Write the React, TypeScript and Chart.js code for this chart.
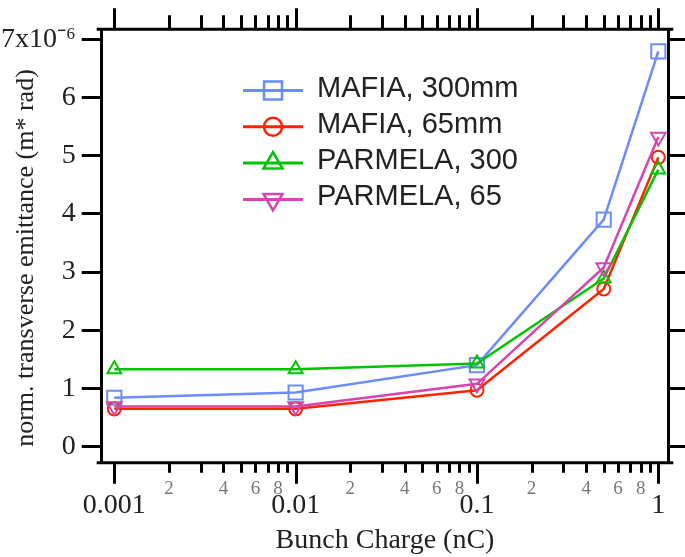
import React, { useEffect, useRef } from 'react';
import { Chart, registerables } from 'chart.js';

Chart.register(...registerables);

// ---- data ----
const charges = [0.001, 0.01, 0.1, 0.5, 1];
const mafia300 = [0.84, 0.93, 1.4, 3.9, 6.79];
const mafia65 = [0.65, 0.65, 0.97, 2.71, 4.97];
const parmela300 = [1.33, 1.33, 1.43, 2.89, 4.76];
const parmela65 = [0.69, 0.69, 1.08, 3.08, 5.32];

const seriesNames = ['MAFIA, 300mm', 'MAFIA, 65mm', 'PARMELA, 300', 'PARMELA, 65'];
const seriesValues = [mafia300, mafia65, parmela300, parmela65];
const seriesColors = ['#6a8cff', '#ff2200', '#00c400', '#d845b0'];
const seriesMarkers = ['rect', 'circle', 'triangle', 'triangleDown'];

const yTicks = [0, 1, 2, 3, 4, 5, 6, 7];
const yTopTickLabel = '7x10\u207B\u2076';
const decades = [0.001, 0.01, 0.1, 1];
const decadeLabels = ['0.001', '0.01', '0.1', '1'];
const minorSteps = [2, 3, 4, 5, 6, 7, 8, 9];
const minorLabelSteps = [2, 4, 6, 8];

const xTitle = 'Bunch Charge (nC)';
const yTitle = 'norm. transverse emittance (m* rad)';

const SERIF = "'Liberation Serif', 'Times New Roman', serif";
const SANS = "'Liberation Sans', Arial, sans-serif";

function drawMarker(ctx: CanvasRenderingContext2D, kind: string, x: number, y: number, r: number) {
  ctx.beginPath();
  if (kind === 'rect') {
    const s = r * Math.SQRT1_2;
    ctx.rect(x - s, y - s, 2 * s, 2 * s);
  } else if (kind === 'circle') {
    ctx.arc(x, y, r, 0, Math.PI * 2);
  } else {
    const d = kind === 'triangle' ? 1 : -1;
    ctx.moveTo(x, y - d * r);
    ctx.lineTo(x + r * 0.866, y + (d * r) / 2);
    ctx.lineTo(x - r * 0.866, y + (d * r) / 2);
    ctx.closePath();
  }
  ctx.stroke();
}

const decorPlugin = {
  id: 'decor',
  afterDraw(chart: any) {
    const ctx: CanvasRenderingContext2D = chart.ctx;
    const a = chart.chartArea;
    const x = chart.scales.x;
    ctx.save();
    // horizontal frame lines (slightly extended past the corners)
    ctx.strokeStyle = '#000';
    ctx.lineWidth = 3;
    ctx.beginPath();
    ctx.moveTo(a.left - 5, a.top);
    ctx.lineTo(a.right + 5, a.top);
    ctx.moveTo(a.left - 5, a.bottom);
    ctx.lineTo(a.right + 5, a.bottom);
    ctx.stroke();

    // log ticks top & bottom
    const tickVals: { v: number; major: boolean; minorLabel: string }[] = [];
    decades.forEach((d, i) => {
      tickVals.push({ v: d, major: true, minorLabel: '' });
      if (i < decades.length - 1) {
        minorSteps.forEach((m) =>
          tickVals.push({ v: m * d, major: false, minorLabel: minorLabelSteps.includes(m) ? String(m) : '' })
        );
      }
    });
    ctx.beginPath();
    tickVals.forEach((t) => {
      const px = Math.round(x.getPixelForValue(t.v)) + 0.5;
      ctx.moveTo(px, a.bottom);
      ctx.lineTo(px, a.bottom + (t.major ? 21 : 10));
      ctx.moveTo(px, a.top);
      ctx.lineTo(px, a.top - (t.major ? 21 : 14));
    });
    ctx.stroke();

    // tick labels
    ctx.textAlign = 'center';
    ctx.textBaseline = 'middle';
    ctx.fillStyle = '#777';
    ctx.font = `19px ${SERIF}`;
    tickVals.forEach((t) => {
      if (t.minorLabel) ctx.fillText(t.minorLabel, x.getPixelForValue(t.v), a.bottom + 26);
    });
    ctx.fillStyle = '#222';
    ctx.font = `28px ${SERIF}`;
    decades.forEach((d, i) => ctx.fillText(decadeLabels[i], x.getPixelForValue(d), a.bottom + 43));

    // axis titles
    ctx.font = `28px ${SERIF}`;
    ctx.fillText(xTitle, (a.left + a.right) / 2, a.bottom + 78);
    ctx.save();
    ctx.translate(26, (a.top + a.bottom) / 2 + 12);
    ctx.rotate(-Math.PI / 2);
    ctx.font = `26px ${SERIF}`;
    ctx.fillText(yTitle, 0, 0);
    ctx.restore();

    // legend
    const lx0 = 243;
    const lx1 = 303;
    const mx = 273;
    const tx = 317;
    const legendR = [12.7, 9, 11, 11];
    chart.data.datasets.forEach((ds: any, i: number) => {
      const y = 90.5 + i * 36.3;
      ctx.strokeStyle = ds.borderColor;
      ctx.lineWidth = 3;
      ctx.beginPath();
      ctx.moveTo(lx0, y);
      ctx.lineTo(lx1, y);
      ctx.stroke();
      ctx.lineWidth = 2.5;
      drawMarker(ctx, seriesMarkers[i], mx, y, legendR[i]);
      ctx.fillStyle = '#222';
      ctx.font = `29px ${SANS}`;
      ctx.textAlign = 'left';
      ctx.fillText(ds.label, tx, y - 2);
    });
    ctx.restore();
  },
};

export default function App() {
  const ref = useRef<HTMLCanvasElement | null>(null);
  useEffect(() => {
    if (!ref.current) return;
    const orders = [4, 3, 2, 1];
    const radii = [10, 6.5, 8, 8.5];
    const datasets = seriesNames.map((name, i) => ({
      label: name,
      data: charges.map((c, j) => ({ x: c, y: seriesValues[i][j] })),
      borderColor: seriesColors[i],
      backgroundColor: 'rgba(0,0,0,0)',
      borderWidth: 2.5,
      pointStyle: seriesMarkers[i] === 'triangleDown' ? 'triangle' : seriesMarkers[i],
      pointRotation: seriesMarkers[i] === 'triangleDown' ? 180 : 0,
      pointRadius: radii[i],
      pointBorderWidth: 2,
      pointBorderColor: seriesColors[i],
      pointBackgroundColor: 'rgba(0,0,0,0)',
      tension: 0,
      order: orders[i],
    }));
    const yMin = -0.275;
    const yMax = 7.17;
    const chart = new Chart(ref.current, {
      type: 'line',
      data: { datasets },
      plugins: [decorPlugin],
      options: {
        animation: false,
        responsive: false,
        devicePixelRatio: 1,
        layout: { padding: { top: 29.3, bottom: 94.3, left: 0, right: 0 } },
        plugins: { legend: { display: false }, tooltip: { enabled: false } },
        scales: {
          x: {
            type: 'logarithmic',
            display: false,
            min: Math.pow(10, -3.0695),
            max: Math.pow(10, 0.0551),
          },
          y: {
            type: 'linear',
            position: 'left',
            min: yMin,
            max: yMax,
            afterBuildTicks: (s: any) => {
              s.ticks = yTicks.map((v) => ({ value: v }));
            },
            afterFit: (s: any) => {
              s.width = 101.7;
            },
            grid: { drawOnChartArea: false, drawTicks: true, tickLength: 20, tickWidth: 3, tickColor: '#000' },
            border: { display: true, width: 3, color: '#000' },
            ticks: {
              padding: 6,
              color: '#222',
              font: { family: SERIF, size: 28 },
              callback: (v: any) => (v === 7 ? yTopTickLabel : String(v)),
            },
          },
          y2: {
            type: 'linear',
            position: 'right',
            min: yMin,
            max: yMax,
            afterBuildTicks: (s: any) => {
              s.ticks = yTicks.map((v) => ({ value: v }));
            },
            afterFit: (s: any) => {
              s.width = 16.7;
            },
            grid: { drawOnChartArea: false, drawTicks: true, tickLength: 17, tickWidth: 3, tickColor: '#000' },
            border: { display: true, width: 3, color: '#000' },
            ticks: { display: false },
          },
        },
      } as any,
    });
    return () => chart.destroy();
  }, []);
  return (
    <div style={{ position: 'absolute', left: 0, top: 0, width: 685, height: 557, background: '#fff' }}>
      <canvas ref={ref} width={685} height={557} />
    </div>
  );
}
